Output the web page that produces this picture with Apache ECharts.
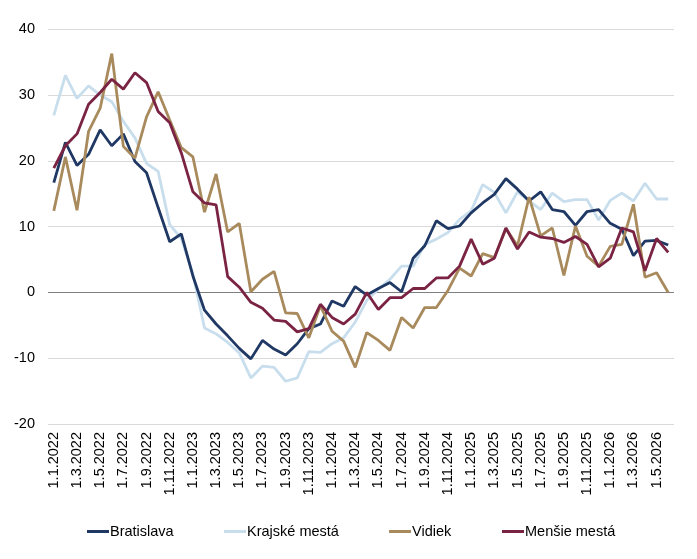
<!DOCTYPE html>
<html>
<head>
<meta charset="utf-8">
<script src="https://cdn.jsdelivr.net/npm/echarts@6/dist/echarts.min.js"></script>
<style>
html,body{margin:0;padding:0;background:#fff;}
#c{width:697px;height:559px;}
</style>
</head>
<body>
<div id="c"></div>
<script>
// Monthly categories 1.1.2022 .. 1.6.2026
const categories = [];
for (let y = 2022; y <= 2026; y++) {
  for (let m = 1; m <= 12; m++) {
    if (y === 2026 && m > 6) break;
    categories.push('1.' + m + '.' + y);
  }
}
const yTicks = [-20, -10, 0, 10, 20, 30, 40];

const bratislava = [16.7,22.8,19.3,21.0,24.7,22.3,24.1,19.9,18.2,12.9,7.7,8.9,2.5,-2.7,-4.8,-6.6,-8.5,-10.1,-7.3,-8.6,-9.5,-7.8,-5.5,-4.8,-1.3,-2.1,0.9,-0.4,0.6,1.5,0.1,5.2,7.1,10.9,9.7,10.1,12.1,13.6,14.9,17.3,15.7,13.9,15.3,12.6,12.3,10.2,12.3,12.6,10.5,9.6,5.6,7.8,7.9,7.2];
const krajske = [26.9,33.0,29.5,31.4,30.0,29.0,26.0,23.5,19.6,18.4,10.3,8.2,2.8,-5.4,-6.3,-7.6,-9.2,-13.0,-11.2,-11.4,-13.5,-13.0,-9.0,-9.1,-7.8,-6.9,-4.5,-1.2,0.5,2.0,4.0,4.0,7.3,8.1,9.1,11.1,12.4,16.4,15.2,12.1,15.3,13.9,12.6,15.1,13.8,14.1,14.1,11.0,14.0,15.1,13.9,16.6,14.2,14.2];
const vidiek = [12.4,20.6,12.5,24.5,28.0,36.3,22.2,20.4,26.7,30.5,26.2,22.0,20.6,12.2,18.0,9.2,10.5,0.1,2.0,3.2,-3.1,-3.2,-6.9,-2.0,-5.9,-7.4,-11.4,-6.1,-7.3,-8.8,-3.8,-5.4,-2.3,-2.3,0.3,3.7,2.5,5.9,5.3,9.7,7.1,14.5,8.6,9.8,2.6,10.1,5.5,4.0,7.0,7.3,13.4,2.3,3.0,0.0];
const mensie = [18.9,22.3,24.1,28.6,30.4,32.4,30.9,33.4,31.9,27.5,25.8,21.2,15.3,13.6,13.3,2.4,0.8,-1.5,-2.4,-4.2,-4.4,-6.0,-5.5,-1.8,-3.8,-4.8,-3.3,0.0,-2.6,-0.8,-0.8,0.6,0.6,2.2,2.2,4.0,8.1,4.3,5.2,9.8,6.6,9.2,8.4,8.2,7.6,8.5,7.3,3.9,5.2,9.8,9.2,3.3,8.2,6.1];

const seriesNames = ['Bratislava', 'Krajské mestá', 'Vidiek', 'Menšie mestá'];
const seriesData = [bratislava, krajske, vidiek, mensie];
const colors = ['#1f3864', '#c8deed', '#a88a5d', '#7a2343'];
const legendLefts = [87, 224, 389, 502];

const font = 'Liberation Sans, Arial, sans-serif';

const chart = echarts.init(document.getElementById('c'), null, {renderer: 'canvas'});

const series = seriesData.map((d, i) => ({
  name: seriesNames[i],
  type: 'line',
  data: d,
  symbol: 'none',
  smooth: false,
  lineStyle: {color: colors[i], width: 2.8},
  itemStyle: {color: colors[i]},
  z: i === 1 ? 2 : 3 + i,
  animation: false
}));
// zero line
series[0].markLine = {
  silent: true,
  symbol: 'none',
  label: {show: false},
  lineStyle: {color: '#7f7f7f', width: 1, type: 'solid'},
  data: [{yAxis: 0}],
  z: 1
};

chart.setOption({
  backgroundColor: '#fff',
  animation: false,
  textStyle: {fontFamily: font},
  grid: {left: 48, right: 23, top: 29.3, bottom: 135},
  legend: seriesNames.map((n, i) => ({
    data: [n],
    left: legendLefts[i],
    top: 524,
    icon: 'rect',
    itemWidth: 22,
    itemHeight: 3,
    itemGap: 0,
    padding: 0,
    textStyle: {fontFamily: font, fontSize: 14.5, color: '#000', padding: [0, 0, 0, -4]}
  })),
  xAxis: {
    type: 'category',
    data: categories,
    boundaryGap: true,
    axisLine: {show: false},
    axisTick: {show: false},
    splitLine: {show: false},
    axisLabel: {
      interval: 1,
      rotate: 90,
      margin: 8,
      fontSize: 14.5,
      color: '#000',
      fontFamily: font
    }
  },
  yAxis: {
    type: 'value',
    min: -20,
    max: 40,
    interval: 10,
    axisLine: {show: false},
    axisTick: {show: false},
    axisLabel: {
      margin: 13,
      fontSize: 14.5,
      color: '#000',
      fontFamily: font,
      formatter: v => yTicks.includes(v) ? String(v) : ''
    },
    splitLine: {lineStyle: {color: '#d9d9d9', width: 1}}
  },
  series: series
});
</script>
</body>
</html>
